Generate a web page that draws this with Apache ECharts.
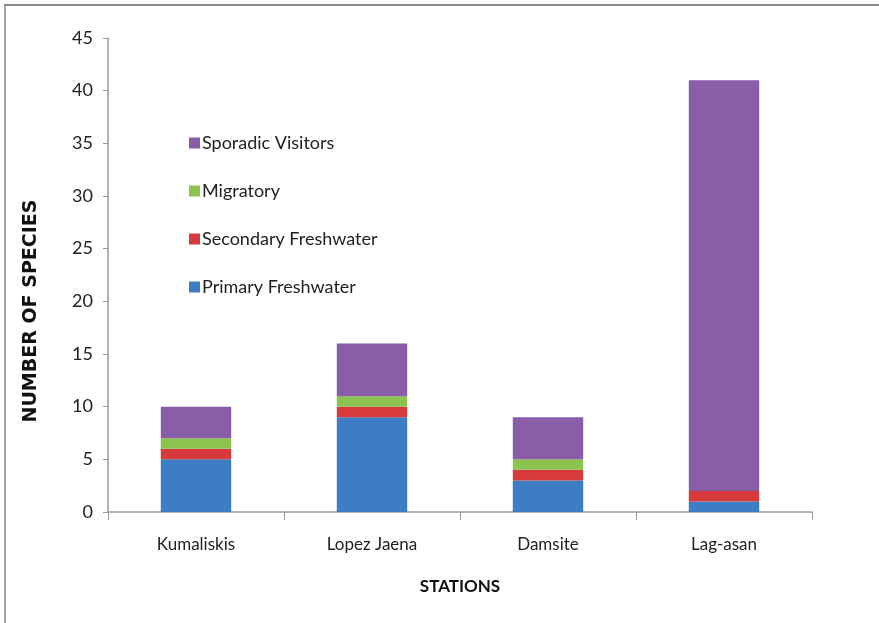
<!DOCTYPE html>
<html>
<head>
<meta charset="utf-8">
<script src="https://cdn.jsdelivr.net/npm/echarts@6/dist/echarts.min.js"></script>
<style>
  html, body { margin: 0; padding: 0; background: #fff; }
  #chart { width: 879px; height: 623px; }
</style>
</head>
<body>
<div id="chart"></div>
<script>
// Fish species counts per sampling station, split by category
const stations = ['Kumaliskis', 'Lopez Jaena', 'Damsite', 'Lag-asan'];
const primaryFreshwater = [5, 9, 3, 1];
const secondaryFreshwater = [1, 1, 1, 1];
const migratory = [1, 1, 1, 0];
const sporadicVisitors = [3, 5, 4, 39];
const yTicks = [0, 5, 10, 15, 20, 25, 30, 35, 40, 45];

const FONT = 'Lato, "Open Sans", sans-serif';

const chart = echarts.init(document.getElementById('chart'));

function stackSeries(name, data, color) {
  return {
    name: name,
    type: 'bar',
    stack: 'total',
    data: data,
    barWidth: '40%',
    itemStyle: { color: color },
    emphasis: { disabled: true }
  };
}

chart.setOption({
  animation: false,
  grid: { left: 108, right: 67, top: 38, bottom: 111 },
  legend: {
    orient: 'vertical',
    left: 184,
    top: 129,
    itemGap: 30,
    itemWidth: 11,
    itemHeight: 11,
    icon: 'rect',
    textStyle: { fontFamily: FONT, fontSize: 18, color: '#222', padding: [0, 0, 0, -3] },
    data: ['Sporadic Visitors', 'Migratory', 'Secondary Freshwater', 'Primary Freshwater']
  },
  xAxis: {
    type: 'category',
    data: stations,
    name: 'STATIONS',
    nameLocation: 'middle',
    nameGap: 66,
    nameTextStyle: { fontFamily: FONT, fontSize: 17, fontWeight: 'bold', color: '#111' },
    axisLine: { lineStyle: { color: '#999', width: 1.5 } },
    axisTick: { show: true, length: 8, lineStyle: { color: '#999' }, alignWithLabel: false },
    axisLabel: { fontFamily: FONT, fontSize: 17, color: '#222', margin: 24 }
  },
  yAxis: {
    type: 'value',
    min: yTicks[0],
    max: yTicks[yTicks.length - 1],
    interval: 5,
    axisLine: { show: true, lineStyle: { color: '#999', width: 1.5 } },
    axisTick: { show: true, length: 5, lineStyle: { color: '#999' } },
    splitLine: { show: false },
    axisLabel: { fontFamily: FONT, fontSize: 18, color: '#222', margin: 15 }
  },
  graphic: [
    { type: 'line', shape: { x1: 4, y1: 5, x2: 879, y2: 5 }, style: { stroke: '#888', lineWidth: 2 } },
    { type: 'line', shape: { x1: 5, y1: 5, x2: 5, y2: 623 }, style: { stroke: '#888', lineWidth: 1.5 } },
    {
      type: 'text',
      x: 31,
      y: 311,
      rotation: Math.PI / 2,
      style: {
        text: 'NUMBER OF SPECIES',
        font: 'bold 19px "DejaVu Sans", sans-serif',
        fill: '#111',
        align: 'center',
        verticalAlign: 'middle'
      }
    }
  ],
  series: [
    stackSeries('Primary Freshwater', primaryFreshwater, '#3d7dc4'),
    stackSeries('Secondary Freshwater', secondaryFreshwater, '#d63a3b'),
    stackSeries('Migratory', migratory, '#8cc24e'),
    stackSeries('Sporadic Visitors', sporadicVisitors, '#8a5da8')
  ]
});
</script>
</body>
</html>
